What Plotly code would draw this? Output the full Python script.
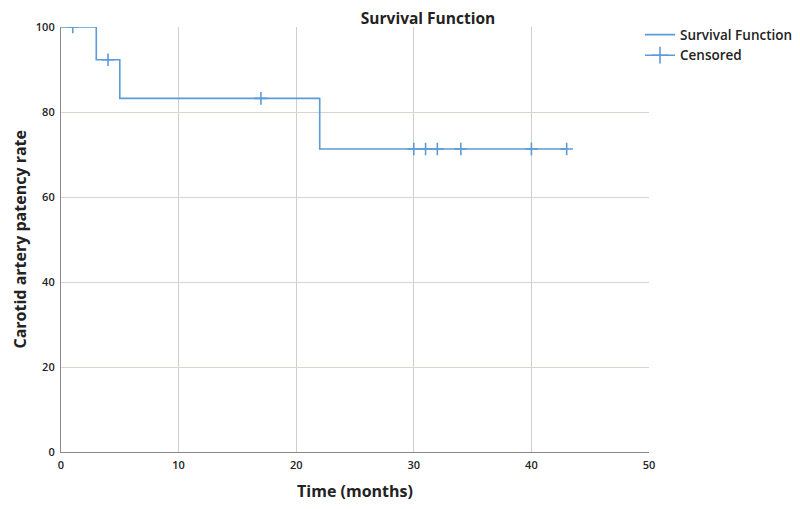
import plotly.graph_objects as go

# Step survival curve (time in months, survival %)
step_times = [0, 3, 3, 5, 5, 22, 22, 43]
step_surv = [100, 100, 92.3, 92.3, 83.2, 83.2, 71.3, 71.3]

# Censored observations
cens_times = [1, 4, 17, 30, 31, 32, 34, 40, 43]
cens_surv = [100, 92.3, 83.2, 71.3, 71.3, 71.3, 71.3, 71.3, 71.3]

x_ticks = [0, 10, 20, 30, 40, 50]
y_ticks = [0, 20, 40, 60, 80, 100]

line_color = "#5b9bd8"
font_family = "Open Sans"

# the page body adds an 8px offset; the figure is sized to the remaining window
W, H = 792, 501
L, R, T, B = 53, 151, 19, 57

fig = go.Figure()
fig.add_trace(go.Scatter(
    x=step_times, y=step_surv, mode="lines", name="Survival Function",
    line=dict(color=line_color, width=1.6),
))
fig.add_trace(go.Scatter(
    x=cens_times, y=cens_surv, mode="markers", name="Censored", showlegend=False,
    marker=dict(symbol="cross-thin", size=9, line=dict(color=line_color, width=1.6)),
))
# legend entry for censored (line with a cross, as in the reference legend)
fig.add_trace(go.Scatter(
    x=[None], y=[None], mode="lines+markers", name="Censored",
    line=dict(color=line_color, width=1.6),
    marker=dict(symbol="cross-thin", size=12, line=dict(color=line_color, width=1.6)),
))

fig.update_layout(
    width=W, height=H,
    margin=dict(l=L, r=R, t=T, b=B, autoexpand=False),
    paper_bgcolor="white", plot_bgcolor="white",
    font=dict(family=font_family, color="#222222"),
    title=dict(text="Survival Function", x=420 / W, xanchor="center",
               y=1 - 10.5 / H, yanchor="middle",
               font=dict(size=15.5, family=font_family, weight="bold", color="#222222")),
    legend=dict(x=0.9847, xanchor="left", y=1.018, yanchor="top",
                font=dict(size=13.5, family=font_family, weight=600, color="#222222"),
                bgcolor="rgba(0,0,0,0)", tracegroupgap=0, itemwidth=30),
    showlegend=True,
    annotations=[dict(
        text="Carotid artery patency rate", textangle=-90,
        xref="paper", yref="paper", x=(11 - L) / (W - L - R), y=0.5,
        xanchor="center", yanchor="middle", showarrow=False,
        font=dict(size=16, family=font_family, weight="bold", color="#222222"),
    )],
)
fig.update_xaxes(
    range=[0, 50], tickvals=x_ticks, ticktext=[str(v) for v in x_ticks],
    showgrid=True, gridcolor="#cfcfcf", gridwidth=1, automargin=True,
    zeroline=False, showline=True, linecolor="#8a8a8a", linewidth=1.2,
    ticks="", ticklabelstandoff=3,
    tickfont=dict(size=11, family=font_family, weight=600, color="#222222"),
    title=dict(text="Time (months)", font=dict(size=16, family=font_family, weight="bold", color="#222222"),
               standoff=14),
)
fig.update_yaxes(
    range=[0, 100], tickvals=y_ticks, ticktext=[str(v) for v in y_ticks],
    showgrid=True, gridcolor="#ddd2cc", gridwidth=1, automargin=True,
    zeroline=False, showline=True, linecolor="#8a8a8a", linewidth=1.2,
    ticks="", ticklabelstandoff=3,
    tickfont=dict(size=11, family=font_family, weight=600, color="#222222"),
)

fig.write_html("out.html")
